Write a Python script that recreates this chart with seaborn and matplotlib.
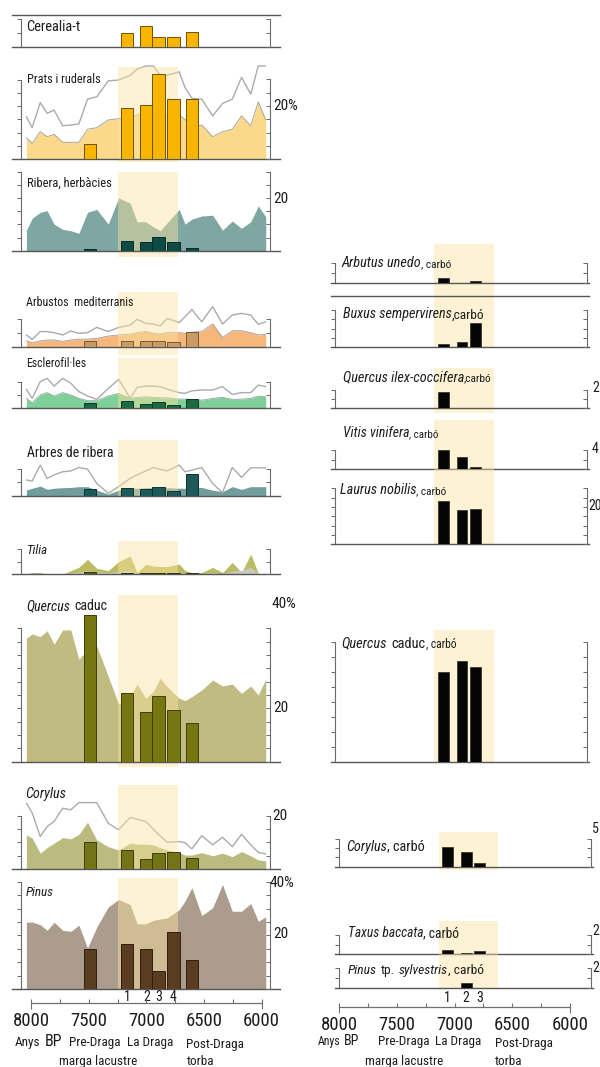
import numpy as np
import matplotlib
matplotlib.use("Agg")
import matplotlib.pyplot as plt
import seaborn as sns
from matplotlib import font_manager as fm
from matplotlib.ticker import FixedLocator, FuncFormatter
from matplotlib.transforms import blended_transform_factory

# ---------------------------------------------------------------- data
# pollen sample ages (years BP)
AGES = [8040, 7990, 7920, 7860, 7800, 7725, 7655, 7585, 7510, 7430, 7330, 7240,
        7140, 7080, 7005, 6940, 6880, 6820, 6715, 6665, 6605, 6520, 6425, 6340,
        6255, 6175, 6095, 6030, 5965]

# site samples: pre-Draga, La Draga 1-4, post-Draga
SITE_AGES = [7490, 7165, 7000, 6895, 6765, 6605]
SITE_LABELS = ["", "1", "2", "3", "4", ""]
# charcoal samples 1-3
CHAR_AGES = [7060, 6900, 6785]
CHAR_LABELS = ["1", "2", "3"]

LA_DRAGA_POLLEN = (7245, 6725)
LA_DRAGA_CHAR = (7140, 6625)

nan = np.nan

CEREALIA_SITE = [nan, 0.98, 1.51, 0.69, 0.69, 1.05]

PRATS_AREA = [8.1, 6.0, 10.4, 8.5, 9.4, 6.4, 6.4, 6.4, 11.3, 11.9, 14.8, 15.3, 15.8, 16.6,
              17.3, 17.3, 16.6, 16.6, 16.6, 15.0, 12.0, 12.9, 8.5, 10.4, 11.3, 16.3, 12.6, 21.6, 14.8]
PRATS_X = [16.0, 11.9, 21.3, 17.3, 18.5, 12.6, 12.9, 13.3, 22.6, 23.5, 29.5, 29.8, 31.6, 33.9,
           35.1, 35.1, 31.6, 31.6, 32.9, 27.0, 22.9, 22.6, 16.3, 21.0, 22.6, 30.8, 24.5, 35.1, 35.1]
PRATS_SITE = [5.6, 19.4, 20.6, 32.0, 22.6, 22.6]

RIBERA_H_AREA = [7.8, 12.3, 14.6, 15.2, 10.1, 8.1, 7.6, 6.6, 14.6, 15.7, 10.1, 20.1, 18.0, 11.0,
                 11.0, 9.1, 7.6, 10.6, 15.7, 10.1, 12.0, 13.2, 13.5, 7.8, 11.3, 8.5, 11.0, 17.0, 12.9]
RIBERA_H_SITE = [0.5, 3.8, 3.2, 5.3, 3.4, 0.9]

ARBUSTOS_AREA = [2.1, 1.4, 2.1, 2.4, 2.4, 1.9, 2.4, 2.7, 2.7, 3.0, 3.8, 4.2, 4.5, 5.0, 5.4, 4.8,
                 4.5, 5.0, 5.0, 4.8, 5.2, 5.4, 8.1, 3.3, 5.7, 5.7, 5.0, 4.2, 4.4]
ARBUSTOS_X = [4.2, 2.6, 5.4, 5.4, 5.0, 4.2, 5.6, 4.8, 5.0, 6.9, 5.4, 6.9, 7.7, 9.8, 8.3, 8.1,
              7.4, 10.1, 8.6, 10.7, 13.3, 8.9, 14.3, 8.1, 11.3, 11.9, 11.3, 8.0, 8.9]
ARBUSTOS_SITE = [2.1, 2.1, 2.0, 2.0, 1.7, 5.2]

ESCLEROFIL_AREA = [3.6, 1.9, 4.9, 5.8, 4.5, 5.8, 4.9, 3.6, 2.7, 2.7, 4.5, 5.5, 3.6, 4.0, 4.2,
                   4.0, 3.8, 3.8, 3.3, 3.3, 3.2, 2.9, 3.6, 4.0, 3.2, 3.3, 3.6, 4.5, 4.2]
ESCLEROFIL_X = [7.1, 3.6, 10.0, 11.3, 8.3, 11.3, 9.4, 6.2, 4.5, 3.2, 7.4, 10.9, 3.6, 7.8, 8.3,
                8.3, 8.1, 7.1, 5.8, 5.5, 6.5, 6.8, 6.8, 8.1, 5.1, 5.8, 5.8, 8.7, 8.1]
ESCLEROFIL_SITE = [1.9, 2.7, 1.3, 2.1, 1.15, 3.2]

ARBRES_R_AREA = [2.1, 2.8, 3.6, 2.4, 2.8, 3.0, 3.1, 3.4, 3.4, 2.1, 0.6, 2.1, 2.8, 2.8, 3.0, 3.1,
                 3.0, 3.0, 2.8, 2.8, 3.0, 3.1, 2.1, 1.5, 3.4, 2.4, 3.4, 3.4, 3.4]
ARBRES_R_X = [5.9, 5.5, 11.5, 6.5, 7.8, 9.0, 9.3, 10.6, 10.0, 4.6, 0.9, 3.4, 6.5, 7.8, 9.3, 10.6,
              9.9, 9.3, 11.5, 9.0, 9.6, 10.6, 4.6, 1.1, 10.6, 6.9, 10.5, 10.5, 10.5]
ARBRES_R_SITE = [2.5, 3.0, 2.4, 3.25, 1.75, 8.1]

TILIA_X = [0, 0.7, 0.7, 0, 0, 0, 1.5, 2.8, 6.0, 2.4, 1.5, 5.1, 7.3, 0.7, 4.0, 3.3, 3.1, 3.1,
           4.1, 1.5, 0.7, 0.7, 2.8, 0.7, 4.8, 0.7, 8.1, 0.4, 0]
TILIA_AREA = [0, 0.5, 0.5, 0, 0, 0, 0.5, 0.9, 1.5, 0.8, 0.7, 1.1, 1.7, 0.4, 0.9, 0.8, 0.7, 0.8,
              0.9, 0.4, 0.3, 0.3, 0.7, 0.3, 1.3, 1.6, 2.8, 0.3, 0]
TILIA_SITE = [0.8, 0.7, 0.7, 0.4, 0.7, 0.7]

QUERCUS_AREA = [46.3, 47.9, 46.9, 49.1, 44.1, 49.4, 49.4, 38.4, 42.0, 43.4, 31.9, 21.6, 24.4,
                29.1, 23.8, 26.3, 31.3, 28.1, 23.8, 22.9, 24.4, 26.9, 30.6, 28.4, 29.1, 25.6,
                28.4, 25.0, 31.0]
QUERCUS_SITE = [55.0, 25.9, 18.5, 24.75, 19.4, 14.6]

CORYLUS_AREA = [12.8, 11.6, 6.0, 8.1, 9.7, 11.8, 11.3, 13.0, 17.5, 10.9, 8.4, 7.2, 9.7, 9.4, 9.3,
                9.1, 8.1, 7.2, 6.2, 5.3, 5.3, 6.2, 5.0, 6.0, 4.7, 6.6, 5.0, 3.5, 3.1]
CORYLUS_X = [24.6, 21.0, 12.2, 15.9, 17.8, 22.7, 22.1, 24.8, 24.8, 24.8, 17.1, 14.7, 19.3, 18.6,
             17.8, 14.9, 12.4, 10.1, 10.3, 9.9, 7.6, 12.5, 9.1, 11.9, 8.4, 13.0, 9.1, 6.3, 5.7]
CORYLUS_SITE = [10.3, 7.2, 3.9, 6.0, 6.5, 4.3]

PINUS_AREA = [24.9, 25.0, 24.0, 21.9, 24.9, 21.9, 21.5, 23.8, 15.3, 23.1, 30.6, 33.4, 31.5, 24.3,
              24.3, 25.6, 26.1, 26.5, 29.6, 32.8, 37.8, 27.4, 30.3, 39.0, 29.0, 29.0, 31.9, 25.3, 26.9]
PINUS_SITE = [14.9, 16.75, 15.1, 6.9, 21.4, 10.9]

# charcoal counts, samples 1-3
ARBUTUS_C = [0.45, nan, 0.2]
BUXUS_C = [1.6, 3.1, 12.9]
QILEX_C = [1.75, nan, nan]
VITIS_C = [4.0, 2.45, 0.35]
LAURUS_C = [23.3, 18.4, 18.8]
QCADUC_C = [60.5, 67.8, 63.8]
CORYLUS_C = [3.6, 2.7, 0.6]
TAXUS_C = [0.42, 0.14, 0.32]
PINUS_SYL_C = [nan, 0.45, nan]

# ---------------------------------------------------------------- style
sns.set_theme(style="white")


def _has_font(name):
    try:
        fm.findfont(fm.FontProperties(family=name), fallback_to_default=False)
        return True
    except Exception:
        return False


NARROW = next((f for f in ["Liberation Sans Narrow", "Arial Narrow", "Roboto Condensed",
                           "DejaVu Sans Condensed"] if _has_font(f)), None)
FAMILY = NARROW or "Liberation Sans"
SZ = 1.0 if NARROW else 0.82
plt.rcParams["font.family"] = [FAMILY, "DejaVu Sans"]

TEXT_C = "#1c1c1c"
AXIS_C = "#555555"
BRACKET_C = "#6a6a6a"
X_LINE_C = "#ababab"
BAND_C = "#FBE49F"
BAND_A = 0.45

W, H = 600, 1067
fig = plt.figure(figsize=(W / 100, H / 100), dpi=100)
fig.patch.set_facecolor("white")
RENDERER = fig.canvas.get_renderer()
PPY = 230.7 / 2000.0  # pixels per year on the age axis


def age_limits(left, right, x8000):
    return 8000 + (x8000 - left) / PPY, 8000 - (right - x8000) / PPY


def new_axes(left, right, top, base):
    ax = fig.add_axes([left / W, 1 - base / H, (right - left) / W, (base - top) / H])
    ax.patch.set_visible(False)
    return ax


def finish(ax, geo, lb, rb, btop, ticks, top_spine=False):
    left, right, x8000, top, base, ppu = geo
    ax.set_xlim(*age_limits(left, right, x8000))
    ax.set_ylim(0, (base - top) / ppu)
    ax.set_xticks([])
    ax.set_xlabel("")
    ax.set_ylabel("")
    for name, sp in ax.spines.items():
        sp.set_visible(name in ("bottom", "left") or (top_spine and name == "top"))
    for name in ("bottom", "top"):
        ax.spines[name].set_color(AXIS_C)
        ax.spines[name].set_linewidth(1.0)
    sl = ax.spines["left"]
    sl.set_position(("data", lb))
    sl.set_bounds(0, btop)
    sl.set_color(BRACKET_C)
    sl.set_linewidth(0.8)
    ax.set_yticks(ticks)
    ax.tick_params(axis="y", left=True, right=False, labelleft=False, labelright=False,
                   direction="out", length=2.8, width=0.7, color=BRACKET_C)
    tw = ax.twinx()
    tw.set_ylim(ax.get_ylim())
    tw.patch.set_visible(False)
    for sp in tw.spines.values():
        sp.set_visible(False)
    sr = tw.spines["right"]
    sr.set_visible(True)
    sr.set_position(("data", rb))
    sr.set_bounds(0, btop)
    sr.set_color(BRACKET_C)
    sr.set_linewidth(0.8)
    tw.set_yticks(ticks)
    tw.tick_params(axis="y", right=True, left=False, labelright=False, labelleft=False,
                   direction="in", length=2.8, width=0.7, color=BRACKET_C)


def band(ax, span, geo, btop, bbot):
    top, base = geo[3], geo[4]
    h = base - top
    ax.axvspan(span[0], span[1], ymin=(base - bbot) / h, ymax=(base - btop) / h,
               facecolor=BAND_C, alpha=BAND_A, lw=0, zorder=2, clip_on=False)


def bars(ax, xs, vals, width, color, edge, lw=0.7):
    pts = [(x, v) for x, v in zip(xs, vals) if not np.isnan(v)]
    ax.bar([p[0] for p in pts], [p[1] for p in pts], width=width, color=color,
           edgecolor=edge, linewidth=lw, zorder=3)


def ftext(x, y, s, size, style="normal", ha="left", color=TEXT_C, weight="normal"):
    return fig.text(x / W, 1 - y / H, s, fontsize=size, fontstyle=style, ha=ha,
                    va="baseline", color=color, fontweight=weight)


def rich(x, y, parts, width=None, color=TEXT_C):
    """Left-aligned run of text pieces sharing one baseline; parts are
    (text, size, style, gap_in_em)."""
    def place(scale):
        out, cx = [], x
        for s, size, style, gap in parts:
            fs = size * scale
            cx += gap * fs * 100 / 72
            t = ftext(cx, y, s, fs, style=style, color=color)
            cx += t.get_window_extent(RENDERER).width
            out.append(t)
        return out, cx - x
    texts, w = place(1.0)
    if width:
        for t in texts:
            t.remove()
        texts, _ = place(width / w)
    return texts


# ---------------------------------------------------------------- pollen column
L_LEFT, L_RIGHT, L_X8000 = 12.0, 280.0, 31.0
L_LB, L_RB = 8087, 5927
SITE_W = 105


def pollen_panel(top, base, ppu, btop, step, area=None, area_c=None, xline=None,
                 site=None, site_c=None, site_e=None, band_px=None, top_spine=False,
                 edge=None, inner=None, inner_c=None):
    geo = (L_LEFT, L_RIGHT, L_X8000, top, base, ppu)
    ax = new_axes(L_LEFT, L_RIGHT, top, base)
    if area is not None:
        ax.fill_between(AGES, 0, area, color=area_c, lw=0, zorder=1)
        if edge:
            sns.lineplot(x=AGES, y=area, ax=ax, color=edge, linewidth=0.6,
                         estimator=None, sort=False, zorder=1.2)
    if inner is not None:
        ax.fill_between(AGES, 0, inner, color=inner_c, lw=0, zorder=1.1)
    if xline is not None:
        sns.lineplot(x=AGES, y=xline, ax=ax, color=X_LINE_C, linewidth=1.0,
                     estimator=None, sort=False, zorder=1.5)
    if band_px is not None:
        band(ax, LA_DRAGA_POLLEN, geo, *band_px)
    if site is not None:
        bars(ax, SITE_AGES, site, SITE_W, site_c, site_e)
    finish(ax, geo, L_LB, L_RB, btop, np.arange(0, btop + 0.01, step), top_spine)
    return ax


pollen_panel(15, 46.7, 13.7, 2, 1, site=CEREALIA_SITE, site_c="#F7B500",
             site_e="#6E5200", top_spine=True)
pollen_panel(64, 159.3, 2.66, 30, 5, area=PRATS_AREA, area_c="#FBD98B", xline=PRATS_X,
             site=PRATS_SITE, site_c="#F7B500", site_e="#6E5200", band_px=(66.7, 162),
             edge="#9c9a90")
pollen_panel(171.7, 250.7, 2.63, 30, 5, area=RIBERA_H_AREA, area_c="#7EA6A2",
             site=RIBERA_H_SITE, site_c="#0E4B45", site_e="#062a26", band_px=(171.7, 256.7))
pollen_panel(291.7, 346.7, 2.8, 10, 5, area=ARBUSTOS_AREA, area_c="#F6B77C", xline=ARBUSTOS_X,
             site=ARBUSTOS_SITE, site_c="#C99A66", site_e="#7a5a38", band_px=(291.7, 355),
             edge="#a09a92")
pollen_panel(358.3, 407.7, 2.6, 10, 5, area=ESCLEROFIL_AREA, area_c="#80CE98",
             xline=ESCLEROFIL_X, site=ESCLEROFIL_SITE, site_c="#196A42", site_e="#0b3a22",
             band_px=(358.3, 410), edge="#8fa898")
pollen_panel(440, 495.7, 2.66, 10, 5, area=ARBRES_R_AREA, area_c="#719D9C", xline=ARBRES_R_X,
             site=ARBRES_R_SITE, site_c="#1E5A5A", site_e="#0c3434", band_px=(440, 496.7))
pollen_panel(540.7, 574.3, 2.5, 10, 5, area=TILIA_X, area_c="#BDBB62", inner=TILIA_AREA,
             inner_c="#C9C9C6", site=TILIA_SITE, site_c="#5C5C12", site_e="#33330a",
             band_px=(540.7, 575))
pollen_panel(595, 761.7, 2.667, 50, 5, area=QUERCUS_AREA, area_c="#BFBB81",
             site=QUERCUS_SITE, site_c="#777712", site_e="#3d3d05", band_px=(595, 766.7))
pollen_panel(785, 869.3, 2.69, 20, 5, area=CORYLUS_AREA, area_c="#BBBB80", xline=CORYLUS_X,
             site=CORYLUS_SITE, site_c="#737318", site_e="#3d3d05", band_px=(785, 870))
ax_pinus = pollen_panel(878.3, 989, 2.68, 40, 5, area=PINUS_AREA, area_c="#AB9C8D",
                        site=PINUS_SITE, site_c="#5A3D20", site_e="#2e1e0e",
                        band_px=(878.3, 990))

# ---------------------------------------------------------------- charcoal column
R_X8000 = 339.3
R_LEFT, R_RIGHT = 335.0, 593.0
R_SHIFT = -4.3  # upper charcoal panels sit slightly to the left
R_LB, R_RB = 8000, 5815
CHAR_W = 93


def char_panel(top, base, ppu, btop, ticks, vals, band_px, upper=True, top_spine=False):
    s = R_SHIFT if upper else 0.0
    geo = (R_LEFT + s, R_RIGHT + s, R_X8000 + s, top, base, ppu)
    ax = new_axes(geo[0], geo[1], top, base)
    band(ax, LA_DRAGA_CHAR, geo, *band_px)
    bars(ax, CHAR_AGES, vals, CHAR_W, "#050505", "#2a2a2a", lw=0.5)
    finish(ax, geo, R_LB, R_RB, btop, ticks, top_spine)
    return ax


char_panel(244, 282.7, 9.7, 2, [0, 1, 2], ARBUTUS_C, (244, 295.7))
char_panel(295.7, 347.3, 1.86, 20, [0, 5, 10, 15, 20], BUXUS_C, (295.7, 348), top_spine=True)
char_panel(368.3, 408.3, 9.2, 2, [0, 1, 2], QILEX_C, (368.3, 413.3))
char_panel(420, 469, 4.75, 4, [0, 2, 4], VITIS_C, (420, 469))
char_panel(469, 544.3, 1.86, 30, [0, 5, 10, 15, 20, 25, 30], LAURUS_C, (469, 544.3))
char_panel(630, 762.3, 1.5, 80, list(range(0, 81, 10)), QCADUC_C, (630, 763.3))
char_panel(831.7, 866.7, 5.54, 5, list(np.linspace(0, 5, 4)), CORYLUS_C, (831.7, 870),
           upper=False)
char_panel(920.7, 954, 9.5, 2, [0, 1, 2], TAXUS_C, (920.7, 954), upper=False)
ax_pinsyl = char_panel(954, 987.7, 9.7, 2, [0, 1, 2], PINUS_SYL_C, (954, 988.3), upper=False)


# ---------------------------------------------------------------- age axes
def age_axis(left, right, x8000, y):
    ax = fig.add_axes([left / W, 1 - y / H, (right - left) / W, 0.5 / H])
    ax.patch.set_visible(False)
    ax.set_xlim(*age_limits(left, right, x8000))
    ax.set_yticks([])
    for name, sp in ax.spines.items():
        sp.set_visible(name == "bottom")
    ax.spines["bottom"].set_bounds(6000, 8000)
    ax.spines["bottom"].set_color("#707070")
    ax.spines["bottom"].set_linewidth(0.9)
    ax.xaxis.set_major_locator(FixedLocator(np.arange(6000, 8001, 250)))
    ax.xaxis.set_major_formatter(FuncFormatter(lambda v, p: f"{v:.0f}" if v % 500 == 0 else ""))
    ax.xaxis.set_minor_locator(FixedLocator([8000, 6000]))
    ax.xaxis.remove_overlapping_locs = False
    ax.tick_params(axis="x", which="major", bottom=True, direction="in", length=3.2,
                   width=0.8, color="#707070", pad=6.5, labelsize=13.5 * SZ, labelcolor=TEXT_C)
    ax.tick_params(axis="x", which="minor", bottom=True, direction="out", length=4.5,
                   width=0.8, color="#707070")
    return ax


age_axis(L_LEFT, L_RIGHT, L_X8000, 1003.3)
age_axis(R_LEFT, R_RIGHT, R_X8000, 1006.7)

# sample numbers under the bottom panels
tr = blended_transform_factory(ax_pinus.transData, fig.transFigure)
for a, lab in zip(SITE_AGES, SITE_LABELS):
    if lab:
        ax_pinus.text(a, 1 - 1001 / H, lab, transform=tr, ha="center", va="baseline",
                      fontsize=10 * SZ, color=TEXT_C)
tr = blended_transform_factory(ax_pinsyl.transData, fig.transFigure)
for a, lab in zip(CHAR_AGES, CHAR_LABELS):
    ax_pinsyl.text(a, 1 - 1001.7 / H, lab, transform=tr, ha="center", va="baseline",
                   fontsize=10 * SZ, color=TEXT_C)

# ---------------------------------------------------------------- titles
N, I = "normal", "italic"
rich(25.7, 30.7, [("Cerealia-t", 10, N, 0)], 54)
rich(26.7, 83.3, [("Prats i ruderals", 10, N, 0)], 73)
rich(26.7, 186.7, [("Ribera, herbàcies", 10, N, 0)], 84)
rich(26.0, 306.0, [("Arbustos  mediterranis", 10, N, 0)], 106)
rich(26.0, 366.7, [("Esclerofil·les", 10, N, 0)], 60)
rich(27.3, 456.7, [("Arbres de ribera", 10, N, 0)], 86)
rich(26.7, 554.0, [("Tilia", 10, I, 0)], 21)
rich(26.0, 610.0, [("Quercus", 10, I, 0), ("caduc", 10, N, 0.35)], 82)
rich(25.0, 797.7, [("Corylus", 10, I, 0)], 41)
rich(26.0, 896.0, [("Pinus", 10, I, 0)], 28)

rich(341.7, 267.3, [("Arbutus unedo", 10, I, 0), (", carbó", 8, N, 0)], 110)
rich(342.7, 318.3, [("Buxus sempervirens", 10, I, 0), (",carbó", 9.5, N, 0)], 141.3)
rich(342.7, 381.0, [("Quercus ilex-coccifera", 10, I, 0), (",carbó", 8, N, 0)], 149)
rich(342.7, 437.3, [("Vitis vinifera", 10, I, 0), (", carbó", 8, N, 0)], 95.7)
rich(340.0, 494.3, [("Laurus nobilis", 10, I, 0), (", carbó", 8, N, 0)], 106.7)
rich(341.7, 647.7, [("Quercus", 10, I, 0), ("caduc", 10, N, 0.3), (", carbó", 8, N, 0)], 115)
rich(346.0, 850.7, [("Corylus", 10, I, 0), (", carbó", 10, N, 0)], 79)
rich(347.7, 937.3, [("Taxus baccata", 10, I, 0), (", carbó", 10, N, 0)], 111.7)
rich(347.7, 974.0, [("Pinus", 10, I, 0), ("tp.", 10, N, 0.3), ("sylvestris", 10, I, 0.3),
                    (", carbó", 10, N, 0)], 135.7)

# ---------------------------------------------------------------- scale values
for x, y, s in [(273, 110, "20%"), (273, 202.7, "20"), (271, 608.3, "40%"),
                (273, 712.3, "20"), (272, 820, "20"), (270, 886.7, "40%"), (273, 938.3, "20")]:
    ftext(x, y, s, 11 * SZ)
for x, y, s in [(592, 391.7, "2"), (592, 452.7, "4"), (588, 510, "20"),
                (591.5, 833.3, "5"), (592, 935, "2"), (592, 971.7, "2")]:
    ftext(x, y, s, 10 * SZ)

# ---------------------------------------------------------------- period captions
ftext(15, 1046, "Anys", 9.5 * SZ)
ftext(45, 1046, "BP", 11.5 * SZ)
ftext(69.3, 1046, "Pre-Draga", 9.5 * SZ)
ftext(126.7, 1046, "La Draga", 9.5 * SZ)
ftext(186, 1048, "Post-Draga", 9.5 * SZ)
ftext(59.3, 1065, "marga lacustre", 9.5 * SZ)
ftext(186.7, 1065, "torba", 9.5 * SZ)

rich(318, 1045, [("Anys", 8.5 * SZ, N, 0), ("BP", 10 * SZ, N, 0.2)])
ftext(377.7, 1045, "Pre-Draga", 9.5 * SZ)
ftext(435, 1045, "La Draga", 9.5 * SZ)
ftext(495, 1047.3, "Post-Draga", 9.5 * SZ)
ftext(365, 1065, "marga lacustre", 9.5 * SZ)
ftext(495, 1065, "torba", 9.5 * SZ)

fig.savefig("out.png", dpi=100, facecolor="white")
